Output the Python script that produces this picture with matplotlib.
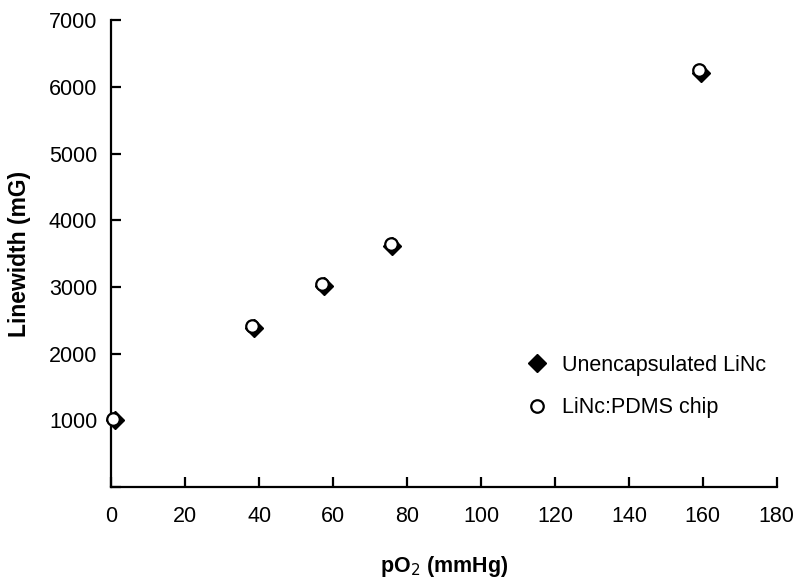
import matplotlib.pyplot as plt

plt.rcParams['font.family'] = ['Liberation Sans', 'DejaVu Sans']

# Unencapsulated LiNc (filled diamonds)
po2_bare = [1, 38.5, 57.5, 76, 159.5]
lw_bare = [1000, 2380, 3010, 3610, 6210]

# LiNc:PDMS chip (open circles)
po2_chip = [0.5, 38, 57, 75.8, 159]
lw_chip = [1020, 2420, 3050, 3650, 6250]

xticks = [0, 20, 40, 60, 80, 100, 120, 140, 160, 180]
yticks = [0, 1000, 2000, 3000, 4000, 5000, 6000, 7000]

fig = plt.figure(figsize=(8, 5.85), dpi=100)
ax = fig.add_axes([0.139, 0.168, 0.832, 0.797])

ax.plot(po2_bare, lw_bare, 'D', color='black', ms=9, ls='none',
        label='Unencapsulated LiNc', zorder=2, clip_on=False)
ax.plot(po2_chip, lw_chip, 'o', mfc='white', mec='black', mew=1.6, ms=9,
        ls='none', label='LiNc:PDMS chip', zorder=3, clip_on=False)

ax.set_xlim(0, 180)
ax.set_ylim(0, 7000)
ax.set_xticks(xticks)
ax.set_yticks(yticks)
ax.set_yticklabels([''] + [str(v) for v in yticks[1:]])

for s in ['top', 'right']:
    ax.spines[s].set_visible(False)
for s in ['left', 'bottom']:
    ax.spines[s].set_linewidth(1.6)

ax.tick_params(direction='in', length=7, width=1.6, labelsize=15.5, pad=10)
ax.tick_params(axis='x', pad=14)

ax.set_xlabel('pO$_2$ (mmHg)', fontsize=15.5, fontweight='bold', labelpad=19)
ax.set_ylabel('Linewidth (mG)', fontsize=16.5, fontweight='bold', labelpad=13)

ax.legend(loc='center left', bbox_to_anchor=(0.578, 0.215), frameon=False,
          fontsize=15.5, handletextpad=0.15, labelspacing=1.0, markerscale=1.0)

fig.savefig('out.png', dpi=100)
